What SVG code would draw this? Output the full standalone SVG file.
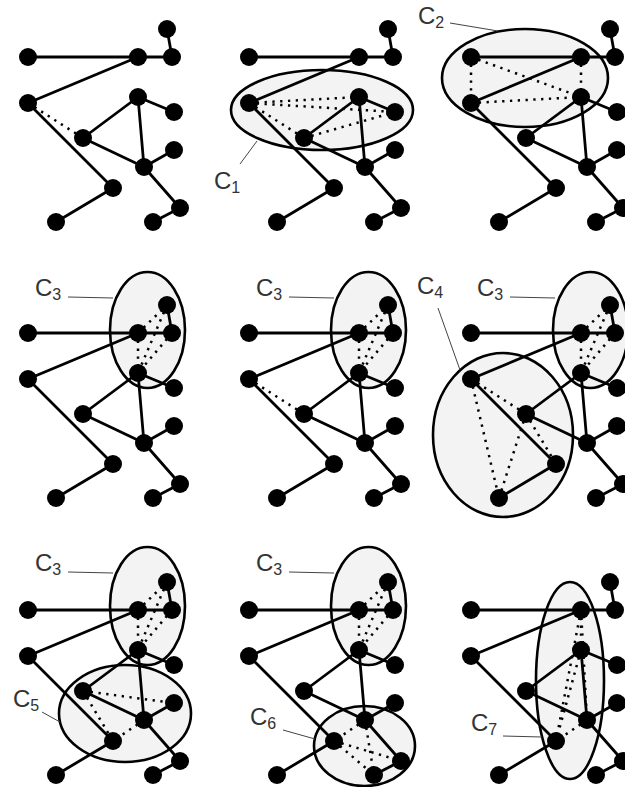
<svg xmlns="http://www.w3.org/2000/svg" width="625" height="787" viewBox="0 0 625 787">
<style>
.n{fill:#000}
.e{fill:none;stroke:#000;stroke-width:2.8;stroke-linejoin:round}
.d{fill:none;stroke:#000;stroke-width:2.5;stroke-dasharray:2.3 5.5}
.c{fill:#f3f3f3;stroke:#000;stroke-width:2.6}
.l{fill:none;stroke:#444;stroke-width:1}
.t{font-family:"Liberation Sans",Arial,sans-serif;font-size:24px;fill:#333}
.s{font-size:16px}
</style>
<rect width="625" height="787" fill="#fff"/>
<g id="clusters">
<ellipse id="C1" class="c" cx="322" cy="110" rx="91" ry="40"/>
<ellipse id="C2" class="c" cx="525" cy="78" rx="83" ry="49"/>
<ellipse id="C3a" class="c" cx="147.5" cy="330" rx="37.5" ry="58"/>
<ellipse id="C3b" class="c" cx="368.5" cy="330" rx="37.5" ry="58"/>
<ellipse id="C4" class="c" cx="503" cy="435" rx="70" ry="82"/>
<ellipse id="C3c" class="c" cx="590.5" cy="330" rx="37.5" ry="58"/>
<ellipse id="C3d" class="c" cx="147.5" cy="606" rx="37.5" ry="59"/>
<ellipse id="C5" class="c" cx="125" cy="713.5" rx="66" ry="48.5"/>
<ellipse id="C3e" class="c" cx="368.5" cy="606" rx="37.5" ry="59"/>
<ellipse id="C6" class="c" cx="364.5" cy="746" rx="50.5" ry="40"/>
<ellipse id="C7" class="c" cx="570" cy="680.5" rx="34" ry="98.5"/>
</g>
<g id="connectors">
<path class="e" transform="translate(0,0)" d="M28 57H172L167 29M138 57L28 103L113 188L56 222M174 112L138 97L83 138L144 167L138 97M174 150L144 167L180 208L153 222"/>
<path class="e" transform="translate(221,0)" d="M28 57H172L167 29M138 57L28 103L113 188L56 222M174 112L138 97L83 138L144 167L138 97M174 150L144 167L180 208L153 222"/>
<path class="e" transform="translate(443,0)" d="M28 57H172L167 29M138 57L28 103L113 188L56 222M174 112L138 97L83 138L144 167L138 97M174 150L144 167L180 208L153 222"/>
<path class="e" transform="translate(0,276)" d="M28 57H172L167 29M138 57L28 103L113 188L56 222M174 112L138 97L83 138L144 167L138 97M174 150L144 167L180 208L153 222"/>
<path class="e" transform="translate(221,276)" d="M28 57H172L167 29M138 57L28 103L113 188L56 222M174 112L138 97L83 138L144 167L138 97M174 150L144 167L180 208L153 222"/>
<path class="e" transform="translate(443,276)" d="M28 57H172L167 29M138 57L28 103L113 188L56 222M174 112L138 97L83 138L144 167L138 97M174 150L144 167L180 208L153 222"/>
<path class="e" transform="translate(0,553)" d="M28 57H172L167 29M138 57L28 103L113 188L56 222M174 112L138 97L83 138L144 167L138 97M174 150L144 167L180 208L153 222"/>
<path class="e" transform="translate(221,553)" d="M28 57H172L167 29M138 57L28 103L113 188L56 222M174 112L138 97L83 138L144 167L138 97M174 150L144 167L180 208L153 222"/>
<path class="e" transform="translate(443,553)" d="M28 57H172L167 29M138 57L28 103L113 188L56 222M174 112L138 97L83 138L144 167L138 97M174 150L144 167L180 208L153 222"/>
<path class="d" transform="translate(0,0)" d="M28 103L83 138"/>
<path class="d" transform="translate(221,0)" d="M28 103L138 97M28 103L174 112M28 103L83 138M83 138L174 112"/>
<path class="d" transform="translate(443,0)" d="M28 57L28 103M28 57L138 97M28 103L138 97M138 57L138 97"/>
<path class="d" transform="translate(0,276)" d="M138 57L167 29M138 57L138 97M172 57L138 97M167 29L138 97"/>
<path class="d" transform="translate(221,276)" d="M138 57L167 29M138 57L138 97M172 57L138 97M167 29L138 97M28 103L83 138"/>
<path class="d" transform="translate(443,276)" d="M138 57L167 29M138 57L138 97M172 57L138 97M167 29L138 97M28 103L83 138M28 103L56 222M83 138L113 188M83 138L56 222"/>
<path class="d" transform="translate(0,553)" d="M138 57L167 29M138 57L138 97M172 57L138 97M167 29L138 97M83 138L174 150M83 138L113 188M144 167L113 188"/>
<path class="d" transform="translate(221,553)" d="M138 57L167 29M138 57L138 97M172 57L138 97M167 29L138 97M144 167L113 188M113 188L180 208M113 188L153 222M144 167L153 222"/>
<path class="d" transform="translate(443,553)" d="M138 57L138 97M138 57L144 167M138 57L113 188M138 97L113 188M144 167L113 188"/>
</g>
<g id="panel1">
<g id="p1-n1"><circle class="n" cx="28" cy="57" r="9"/></g>
<g id="p1-n2"><circle class="n" cx="138" cy="57" r="9"/></g>
<g id="p1-n3"><circle class="n" cx="172" cy="57" r="9"/></g>
<g id="p1-n4"><circle class="n" cx="167" cy="29" r="9"/></g>
<g id="p1-n5"><circle class="n" cx="28" cy="103" r="9"/></g>
<g id="p1-n6"><circle class="n" cx="138" cy="97" r="9"/></g>
<g id="p1-n7"><circle class="n" cx="174" cy="112" r="9"/></g>
<g id="p1-n8"><circle class="n" cx="83" cy="138" r="9"/></g>
<g id="p1-n9"><circle class="n" cx="144" cy="167" r="9"/></g>
<g id="p1-n10"><circle class="n" cx="174" cy="150" r="9"/></g>
<g id="p1-n11"><circle class="n" cx="113" cy="188" r="9"/></g>
<g id="p1-n12"><circle class="n" cx="56" cy="222" r="9"/></g>
<g id="p1-n13"><circle class="n" cx="180" cy="208" r="9"/></g>
<g id="p1-n14"><circle class="n" cx="153" cy="222" r="9"/></g>
</g>
<g id="panel2" transform="translate(221,0)">
<g id="p2-n1"><circle class="n" cx="28" cy="57" r="9"/></g>
<g id="p2-n2"><circle class="n" cx="138" cy="57" r="9"/></g>
<g id="p2-n3"><circle class="n" cx="172" cy="57" r="9"/></g>
<g id="p2-n4"><circle class="n" cx="167" cy="29" r="9"/></g>
<g id="p2-n5"><circle class="n" cx="28" cy="103" r="9"/></g>
<g id="p2-n6"><circle class="n" cx="138" cy="97" r="9"/></g>
<g id="p2-n7"><circle class="n" cx="174" cy="112" r="9"/></g>
<g id="p2-n8"><circle class="n" cx="83" cy="138" r="9"/></g>
<g id="p2-n9"><circle class="n" cx="144" cy="167" r="9"/></g>
<g id="p2-n10"><circle class="n" cx="174" cy="150" r="9"/></g>
<g id="p2-n11"><circle class="n" cx="113" cy="188" r="9"/></g>
<g id="p2-n12"><circle class="n" cx="56" cy="222" r="9"/></g>
<g id="p2-n13"><circle class="n" cx="180" cy="208" r="9"/></g>
<g id="p2-n14"><circle class="n" cx="153" cy="222" r="9"/></g>
</g>
<g id="panel3" transform="translate(443,0)">
<g id="p3-n1"><circle class="n" cx="28" cy="57" r="9"/></g>
<g id="p3-n2"><circle class="n" cx="138" cy="57" r="9"/></g>
<g id="p3-n3"><circle class="n" cx="172" cy="57" r="9"/></g>
<g id="p3-n4"><circle class="n" cx="167" cy="29" r="9"/></g>
<g id="p3-n5"><circle class="n" cx="28" cy="103" r="9"/></g>
<g id="p3-n6"><circle class="n" cx="138" cy="97" r="9"/></g>
<g id="p3-n7"><circle class="n" cx="174" cy="112" r="9"/></g>
<g id="p3-n8"><circle class="n" cx="83" cy="138" r="9"/></g>
<g id="p3-n9"><circle class="n" cx="144" cy="167" r="9"/></g>
<g id="p3-n10"><circle class="n" cx="174" cy="150" r="9"/></g>
<g id="p3-n11"><circle class="n" cx="113" cy="188" r="9"/></g>
<g id="p3-n12"><circle class="n" cx="56" cy="222" r="9"/></g>
<g id="p3-n13"><circle class="n" cx="180" cy="208" r="9"/></g>
<g id="p3-n14"><circle class="n" cx="153" cy="222" r="9"/></g>
</g>
<g id="panel4" transform="translate(0,276)">
<g id="p4-n1"><circle class="n" cx="28" cy="57" r="9"/></g>
<g id="p4-n2"><circle class="n" cx="138" cy="57" r="9"/></g>
<g id="p4-n3"><circle class="n" cx="172" cy="57" r="9"/></g>
<g id="p4-n4"><circle class="n" cx="167" cy="29" r="9"/></g>
<g id="p4-n5"><circle class="n" cx="28" cy="103" r="9"/></g>
<g id="p4-n6"><circle class="n" cx="138" cy="97" r="9"/></g>
<g id="p4-n7"><circle class="n" cx="174" cy="112" r="9"/></g>
<g id="p4-n8"><circle class="n" cx="83" cy="138" r="9"/></g>
<g id="p4-n9"><circle class="n" cx="144" cy="167" r="9"/></g>
<g id="p4-n10"><circle class="n" cx="174" cy="150" r="9"/></g>
<g id="p4-n11"><circle class="n" cx="113" cy="188" r="9"/></g>
<g id="p4-n12"><circle class="n" cx="56" cy="222" r="9"/></g>
<g id="p4-n13"><circle class="n" cx="180" cy="208" r="9"/></g>
<g id="p4-n14"><circle class="n" cx="153" cy="222" r="9"/></g>
</g>
<g id="panel5" transform="translate(221,276)">
<g id="p5-n1"><circle class="n" cx="28" cy="57" r="9"/></g>
<g id="p5-n2"><circle class="n" cx="138" cy="57" r="9"/></g>
<g id="p5-n3"><circle class="n" cx="172" cy="57" r="9"/></g>
<g id="p5-n4"><circle class="n" cx="167" cy="29" r="9"/></g>
<g id="p5-n5"><circle class="n" cx="28" cy="103" r="9"/></g>
<g id="p5-n6"><circle class="n" cx="138" cy="97" r="9"/></g>
<g id="p5-n7"><circle class="n" cx="174" cy="112" r="9"/></g>
<g id="p5-n8"><circle class="n" cx="83" cy="138" r="9"/></g>
<g id="p5-n9"><circle class="n" cx="144" cy="167" r="9"/></g>
<g id="p5-n10"><circle class="n" cx="174" cy="150" r="9"/></g>
<g id="p5-n11"><circle class="n" cx="113" cy="188" r="9"/></g>
<g id="p5-n12"><circle class="n" cx="56" cy="222" r="9"/></g>
<g id="p5-n13"><circle class="n" cx="180" cy="208" r="9"/></g>
<g id="p5-n14"><circle class="n" cx="153" cy="222" r="9"/></g>
</g>
<g id="panel6" transform="translate(443,276)">
<g id="p6-n1"><circle class="n" cx="28" cy="57" r="9"/></g>
<g id="p6-n2"><circle class="n" cx="138" cy="57" r="9"/></g>
<g id="p6-n3"><circle class="n" cx="172" cy="57" r="9"/></g>
<g id="p6-n4"><circle class="n" cx="167" cy="29" r="9"/></g>
<g id="p6-n5"><circle class="n" cx="28" cy="103" r="9"/></g>
<g id="p6-n6"><circle class="n" cx="138" cy="97" r="9"/></g>
<g id="p6-n7"><circle class="n" cx="174" cy="112" r="9"/></g>
<g id="p6-n8"><circle class="n" cx="83" cy="138" r="9"/></g>
<g id="p6-n9"><circle class="n" cx="144" cy="167" r="9"/></g>
<g id="p6-n10"><circle class="n" cx="174" cy="150" r="9"/></g>
<g id="p6-n11"><circle class="n" cx="113" cy="188" r="9"/></g>
<g id="p6-n12"><circle class="n" cx="56" cy="222" r="9"/></g>
<g id="p6-n13"><circle class="n" cx="180" cy="208" r="9"/></g>
<g id="p6-n14"><circle class="n" cx="153" cy="222" r="9"/></g>
</g>
<g id="panel7" transform="translate(0,553)">
<g id="p7-n1"><circle class="n" cx="28" cy="57" r="9"/></g>
<g id="p7-n2"><circle class="n" cx="138" cy="57" r="9"/></g>
<g id="p7-n3"><circle class="n" cx="172" cy="57" r="9"/></g>
<g id="p7-n4"><circle class="n" cx="167" cy="29" r="9"/></g>
<g id="p7-n5"><circle class="n" cx="28" cy="103" r="9"/></g>
<g id="p7-n6"><circle class="n" cx="138" cy="97" r="9"/></g>
<g id="p7-n7"><circle class="n" cx="174" cy="112" r="9"/></g>
<g id="p7-n8"><circle class="n" cx="83" cy="138" r="9"/></g>
<g id="p7-n9"><circle class="n" cx="144" cy="167" r="9"/></g>
<g id="p7-n10"><circle class="n" cx="174" cy="150" r="9"/></g>
<g id="p7-n11"><circle class="n" cx="113" cy="188" r="9"/></g>
<g id="p7-n12"><circle class="n" cx="56" cy="222" r="9"/></g>
<g id="p7-n13"><circle class="n" cx="180" cy="208" r="9"/></g>
<g id="p7-n14"><circle class="n" cx="153" cy="222" r="9"/></g>
</g>
<g id="panel8" transform="translate(221,553)">
<g id="p8-n1"><circle class="n" cx="28" cy="57" r="9"/></g>
<g id="p8-n2"><circle class="n" cx="138" cy="57" r="9"/></g>
<g id="p8-n3"><circle class="n" cx="172" cy="57" r="9"/></g>
<g id="p8-n4"><circle class="n" cx="167" cy="29" r="9"/></g>
<g id="p8-n5"><circle class="n" cx="28" cy="103" r="9"/></g>
<g id="p8-n6"><circle class="n" cx="138" cy="97" r="9"/></g>
<g id="p8-n7"><circle class="n" cx="174" cy="112" r="9"/></g>
<g id="p8-n8"><circle class="n" cx="83" cy="138" r="9"/></g>
<g id="p8-n9"><circle class="n" cx="144" cy="167" r="9"/></g>
<g id="p8-n10"><circle class="n" cx="174" cy="150" r="9"/></g>
<g id="p8-n11"><circle class="n" cx="113" cy="188" r="9"/></g>
<g id="p8-n12"><circle class="n" cx="56" cy="222" r="9"/></g>
<g id="p8-n13"><circle class="n" cx="180" cy="208" r="9"/></g>
<g id="p8-n14"><circle class="n" cx="153" cy="222" r="9"/></g>
</g>
<g id="panel9" transform="translate(443,553)">
<g id="p9-n1"><circle class="n" cx="28" cy="57" r="9"/></g>
<g id="p9-n2"><circle class="n" cx="138" cy="57" r="9"/></g>
<g id="p9-n3"><circle class="n" cx="172" cy="57" r="9"/></g>
<g id="p9-n4"><circle class="n" cx="167" cy="29" r="9"/></g>
<g id="p9-n5"><circle class="n" cx="28" cy="103" r="9"/></g>
<g id="p9-n6"><circle class="n" cx="138" cy="97" r="9"/></g>
<g id="p9-n7"><circle class="n" cx="174" cy="112" r="9"/></g>
<g id="p9-n8"><circle class="n" cx="83" cy="138" r="9"/></g>
<g id="p9-n9"><circle class="n" cx="144" cy="167" r="9"/></g>
<g id="p9-n10"><circle class="n" cx="174" cy="150" r="9"/></g>
<g id="p9-n11"><circle class="n" cx="113" cy="188" r="9"/></g>
<g id="p9-n12"><circle class="n" cx="56" cy="222" r="9"/></g>
<g id="p9-n13"><circle class="n" cx="180" cy="208" r="9"/></g>
<g id="p9-n14"><circle class="n" cx="153" cy="222" r="9"/></g>
</g>
<g id="labels">
<path class="l" d="M240 164L257 141"/>
<text class="t" x="214" y="189">C<tspan class="s" dy="4">1</tspan></text>
<path class="l" d="M450 23L498 31"/>
<text class="t" x="418" y="24">C<tspan class="s" dy="4">2</tspan></text>
<path class="l" d="M68 297L113 298"/>
<text class="t" x="35" y="296">C<tspan class="s" dy="4">3</tspan></text>
<path class="l" d="M289 297L334 298"/>
<text class="t" x="256" y="296">C<tspan class="s" dy="4">3</tspan></text>
<path class="l" d="M510 297L555 298"/>
<text class="t" x="477" y="296">C<tspan class="s" dy="4">3</tspan></text>
<path class="l" d="M438 308L460 370"/>
<text class="t" x="417" y="294">C<tspan class="s" dy="4">4</tspan></text>
<path class="l" d="M68 572L113 573"/>
<text class="t" x="35" y="571">C<tspan class="s" dy="4">3</tspan></text>
<path class="l" d="M289 572L334 573"/>
<text class="t" x="256" y="571">C<tspan class="s" dy="4">3</tspan></text>
<path class="l" d="M42 712L60 722"/>
<text class="t" x="13" y="707">C<tspan class="s" dy="4">5</tspan></text>
<path class="l" d="M283 730L315 739"/>
<text class="t" x="250" y="725">C<tspan class="s" dy="4">6</tspan></text>
<path class="l" d="M503 736L542 737"/>
<text class="t" x="471" y="731">C<tspan class="s" dy="4">7</tspan></text>
</g>
</svg>
